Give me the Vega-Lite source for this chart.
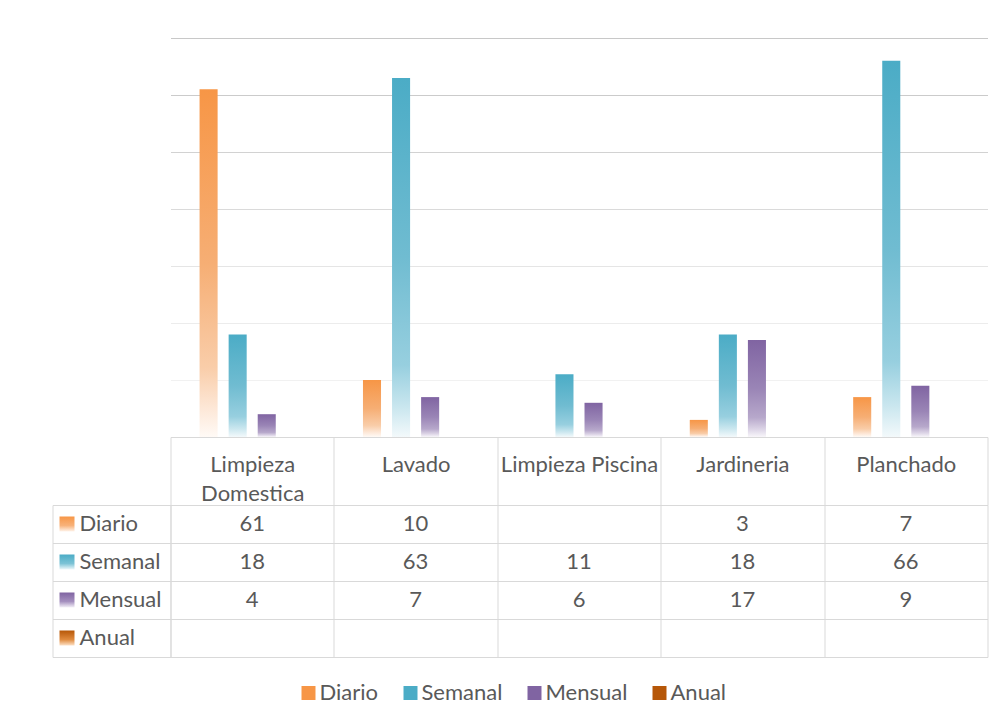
{
  "$schema": "https://vega.github.io/schema/vega-lite/v6.json",
  "background": "white",
  "padding": {"left": 51.5, "top": 38, "right": 10, "bottom": 10},
  "config": {"view": {"stroke": null}, "font": "Lato"},
  "datasets": {
    "usage": [
      {"servicio": "Limpieza Domestica", "frecuencia": "Diario", "personas": 61},
      {"servicio": "Lavado", "frecuencia": "Diario", "personas": 10},
      {"servicio": "Jardineria", "frecuencia": "Diario", "personas": 3},
      {"servicio": "Planchado", "frecuencia": "Diario", "personas": 7},
      {"servicio": "Limpieza Domestica", "frecuencia": "Semanal", "personas": 18},
      {"servicio": "Lavado", "frecuencia": "Semanal", "personas": 63},
      {"servicio": "Limpieza Piscina", "frecuencia": "Semanal", "personas": 11},
      {"servicio": "Jardineria", "frecuencia": "Semanal", "personas": 18},
      {"servicio": "Planchado", "frecuencia": "Semanal", "personas": 66},
      {"servicio": "Limpieza Domestica", "frecuencia": "Mensual", "personas": 4},
      {"servicio": "Lavado", "frecuencia": "Mensual", "personas": 7},
      {"servicio": "Limpieza Piscina", "frecuencia": "Mensual", "personas": 6},
      {"servicio": "Jardineria", "frecuencia": "Mensual", "personas": 17},
      {"servicio": "Planchado", "frecuencia": "Mensual", "personas": 9}
    ],
    "freq": [
      {"frecuencia": "Diario"},
      {"frecuencia": "Semanal"},
      {"frecuencia": "Mensual"},
      {"frecuencia": "Anual"}
    ]
  },
  "columns": 2,
  "bounds": "flush",
  "spacing": {"row": 68, "column": 0},
  "concat": [
    {
      "width": 118,
      "height": 399,
      "data": {"values": [{}]},
      "mark": {"type": "text", "text": " "}
    },
    {
      "width": 817,
      "height": 399,
      "data": {"name": "usage"},
      "encoding": {
        "x": {
          "field": "servicio",
          "type": "nominal",
          "scale": {"domain": ["Limpieza Domestica", "Lavado", "Limpieza Piscina", "Jardineria", "Planchado"], "paddingInner": 0, "paddingOuter": 0},
          "axis": {
            "title": null, "orient": "bottom", "grid": false,
            "domain": true, "domainColor": "#d9d9d9", "domainWidth": 1,
            "ticks": true, "tickBand": "extent", "tickSize": 68, "tickColor": "#d9d9d9", "tickWidth": 1,
            "labelAngle": 0, "labelFontSize": 22, "labelColor": "#595959", "labelFont": "Lato",
            "labelBaseline": "middle", "labelPadding": -41, "labelLineHeight": 29, "labelLimit": 0,
            "labelExpr": "length(datum.label) > 16 ? split(datum.label, ' ') : datum.label"
          }
        },
        "xOffset": {
          "field": "frecuencia",
          "type": "nominal",
          "scale": {"domain": ["Diario", "Semanal", "Mensual", "Anual"], "paddingInner": 0.379, "paddingOuter": 1}
        },
        "y": {
          "field": "personas",
          "type": "quantitative",
          "scale": {"domain": [0, 70], "nice": false},
          "axis": {
            "title": null, "values": [10, 20, 30, 40, 50, 60, 70],
            "labels": false, "ticks": false, "domain": false, "grid": true, "gridWidth": 1,
            "gridColor": {
              "condition": [
                {"test": "datum.value >= 65", "value": "#c8c8c8"},
                {"test": "datum.value >= 55", "value": "#cbcbcb"},
                {"test": "datum.value >= 45", "value": "#d2d2d2"},
                {"test": "datum.value >= 35", "value": "#dadada"},
                {"test": "datum.value >= 25", "value": "#e5e5e5"},
                {"test": "datum.value >= 15", "value": "#ececec"}
              ],
              "value": "#f1f1f1"
            }
          }
        }
      },
      "layer": [
        {
          "mark": {"type": "bar"},
          "encoding": {
            "color": {
              "condition": [
                {"test": "datum.frecuencia === 'Diario'", "value": {"gradient": "linear", "x1": 0, "y1": 0, "x2": 0, "y2": 1, "stops": [
                  {"offset": 0, "color": "#f79646"}, {"offset": 0.5, "color": "#f6ae74"},
                  {"offset": 0.8, "color": "#f9cda9"}, {"offset": 0.92, "color": "#fde8d8"},
                  {"offset": 1, "color": "#fffaf6"}]}},
                {"test": "datum.frecuencia === 'Semanal'", "value": {"gradient": "linear", "x1": 0, "y1": 0, "x2": 0, "y2": 1, "stops": [
                  {"offset": 0, "color": "#4bacc6"}, {"offset": 0.5, "color": "#70bcd1"},
                  {"offset": 0.8, "color": "#97cfdf"}, {"offset": 0.92, "color": "#cbe7ef"},
                  {"offset": 1, "color": "#f3f9fb"}]}},
                {"test": "datum.frecuencia === 'Mensual'", "value": {"gradient": "linear", "x1": 0, "y1": 0, "x2": 0, "y2": 1, "stops": [
                  {"offset": 0, "color": "#8064a2"}, {"offset": 0.5, "color": "#9a85b6"},
                  {"offset": 0.8, "color": "#b7a8cb"}, {"offset": 0.92, "color": "#dcd4e6"},
                  {"offset": 1, "color": "#f8f6fa"}]}}
              ],
              "value": {"gradient": "linear", "x1": 0, "y1": 0, "x2": 0, "y2": 1, "stops": [
                {"offset": 0, "color": "#b65708"}, {"offset": 0.5, "color": "#cf7a35"},
                {"offset": 0.8, "color": "#f0a866"}, {"offset": 0.92, "color": "#fbcfa5"},
                {"offset": 1, "color": "#fff3e8"}]}
            }
          }
        },
        {
          "mark": {"type": "bar", "opacity": 0},
          "encoding": {
            "color": {
              "field": "frecuencia",
              "type": "nominal",
              "scale": {
                "domain": ["Diario", "Semanal", "Mensual", "Anual"],
                "range": ["#f79646", "#4bacc6", "#8064a2", "#b65708"]
              },
              "legend": {
                "title": null, "orient": "none", "direction": "horizontal",
                "legendX": 245, "legendY": 644, "padding": 0,
                "symbolType": "square", "symbolSize": 196, "symbolStrokeWidth": 0, "symbolOpacity": 1,
                "labelFontSize": 22, "labelColor": "#595959", "labelFont": "Lato",
                "labelOffset": 0, "columnPadding": 21
              }
            }
          }
        }
      ]
    },
    {
      "width": 118,
      "height": 152,
      "data": {"name": "freq"},
      "view": {"stroke": "#d9d9d9"},
      "encoding": {
        "y": {
          "field": "frecuencia",
          "type": "nominal",
          "scale": {"type": "band", "domain": ["Diario", "Semanal", "Mensual", "Anual"], "paddingInner": 0, "paddingOuter": 0},
          "axis": {"title": null, "labels": false, "ticks": false, "domain": false, "grid": true, "tickBand": "extent", "gridColor": "#d9d9d9"}
        }
      },
      "layer": [
        {
          "mark": {"type": "square", "size": 225, "opacity": 1, "xOffset": -44.5},
          "encoding": {
            "fill": {
              "condition": [
                {"test": "datum.frecuencia === 'Diario'", "value": {"gradient": "linear", "x1": 0, "y1": 0, "x2": 0, "y2": 1, "stops": [
                  {"offset": 0, "color": "#f79646"}, {"offset": 0.6, "color": "#f8b27a"}, {"offset": 1, "color": "#fff3ea"}]}},
                {"test": "datum.frecuencia === 'Semanal'", "value": {"gradient": "linear", "x1": 0, "y1": 0, "x2": 0, "y2": 1, "stops": [
                  {"offset": 0, "color": "#4bacc6"}, {"offset": 0.6, "color": "#7cc3d6"}, {"offset": 1, "color": "#eef8fb"}]}},
                {"test": "datum.frecuencia === 'Mensual'", "value": {"gradient": "linear", "x1": 0, "y1": 0, "x2": 0, "y2": 1, "stops": [
                  {"offset": 0, "color": "#8064a2"}, {"offset": 0.6, "color": "#a590bf"}, {"offset": 1, "color": "#f4f1f8"}]}}
              ],
              "value": {"gradient": "linear", "x1": 0, "y1": 0, "x2": 0, "y2": 1, "stops": [
                {"offset": 0, "color": "#b65708"}, {"offset": 0.6, "color": "#df8a3e"}, {"offset": 1, "color": "#fde1c6"}]}
            }
          }
        },
        {
          "mark": {"type": "text", "align": "left", "dx": -32, "fontSize": 22, "color": "#595959", "font": "Lato"},
          "encoding": {"text": {"field": "frecuencia"}}
        }
      ]
    },
    {
      "width": 817,
      "height": 152,
      "data": {"name": "usage"},
      "mark": {"type": "text", "fontSize": 22, "color": "#595959", "font": "Lato"},
      "encoding": {
        "x": {
          "field": "servicio",
          "type": "nominal",
          "scale": {"type": "band", "domain": ["Limpieza Domestica", "Lavado", "Limpieza Piscina", "Jardineria", "Planchado"], "paddingInner": 0, "paddingOuter": 0},
          "axis": {"title": null, "orient": "bottom", "labels": false, "ticks": false, "domain": false, "grid": true, "tickBand": "extent", "gridColor": "#d9d9d9"}
        },
        "y": {
          "field": "frecuencia",
          "type": "nominal",
          "scale": {"type": "band", "domain": ["Diario", "Semanal", "Mensual", "Anual"], "paddingInner": 0, "paddingOuter": 0},
          "axis": {"title": null, "labels": false, "ticks": false, "domain": false, "grid": true, "tickBand": "extent", "gridColor": "#d9d9d9"}
        },
        "text": {"field": "personas", "type": "quantitative"}
      }
    }
  ]
}
